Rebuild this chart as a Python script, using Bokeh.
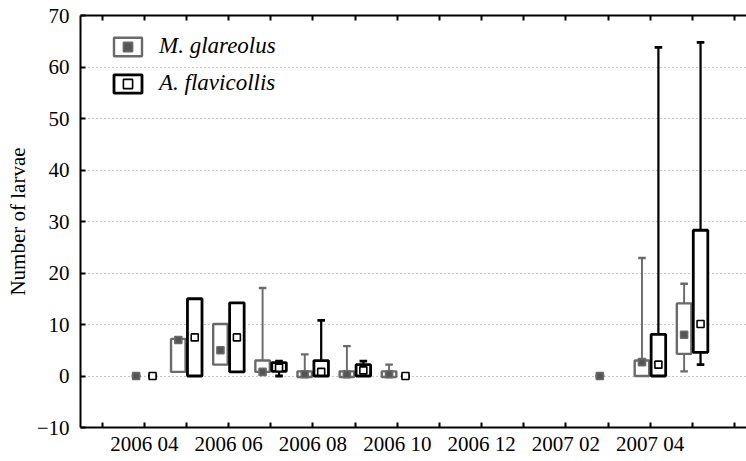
import numpy as np
from bokeh.plotting import figure
from bokeh.models import FixedTicker, LinearAxis, Range1d, Legend, LegendItem
from bokeh.embed import file_html
from bokeh.resources import INLINE

# ---------------- data ----------------
dates = ["2006-04", "2006-05", "2006-06", "2006-07", "2006-08",
         "2006-09", "2006-10", "2007-03", "2007-04", "2007-05"]

# M. glareolus
mg_mid    = [0.0, 7.0, 5.0, 0.8, 0.35, 0.35, 0.35, 0.0, 2.7, 8.0]
mg_box_lo = [0.0, 0.8, 2.2, 0.8, -0.2, -0.2, -0.2, 0.0, 0.0, 4.3]
mg_box_hi = [0.0, 7.2, 10.1, 3.0, 0.9, 0.9, 0.9, 0.0, 3.0, 14.1]
mg_wh_lo  = [0.0, 0.8, 2.2, 0.8, -0.2, -0.2, -0.2, 0.0, 0.0, 0.9]
mg_wh_hi  = [0.0, 7.2, 10.1, 17.1, 4.2, 5.8, 2.2, 0.0, 22.9, 17.9]

# A. flavicollis (no sample in 2007-03)
af_mid    = [0.0, 7.5, 7.5, 1.6, 0.8, 1.1, 0.0, None, 2.2, 10.1]
af_box_lo = [0.0, 0.0, 0.8, 0.9, 0.0, 0.0, 0.0, None, 0.0, 4.6]
af_box_hi = [0.0, 15.0, 14.2, 2.6, 3.0, 2.2, 0.0, None, 8.1, 28.3]
af_wh_lo  = [0.0, 0.0, 0.8, 0.0, 0.0, 0.0, 0.0, None, 0.0, 2.2]
af_wh_hi  = [0.0, 15.0, 14.2, 2.9, 10.8, 2.9, 0.0, None, 63.8, 64.8]

x_tick_labels = ["2006 04", "2006 06", "2006 08", "2006 10",
                 "2006 12", "2007 02", "2007 04"]
y_ticks = [-10, 0, 10, 20, 30, 40, 50, 60, 70]

# ---------------- helpers ----------------
def month_index(s):
    y, m = s.replace(" ", "-").split("-")
    return (int(y) - 2006) * 12 + (int(m) - 4)

xm = np.array([month_index(d) for d in dates], dtype=float)

FONT = "Liberation Serif"
OFFSET = 0.195
BOX_W = 0.345
CAP_W = 0.18

p = figure(width=746, height=461, output_backend="svg", toolbar_location=None,
           x_range=Range1d(-1.515, 14.285), y_range=Range1d(-10, 70),
           min_border_left=80, min_border_right=0, min_border_top=15,
           min_border_bottom=34)
p.outline_line_color = None
p.background_fill_color = "white"
p.xgrid.visible = False
p.ygrid.grid_line_color = "#8c8c8c"
p.ygrid.grid_line_dash = "1 3"
p.ygrid.grid_line_width = 1
p.ygrid.ticker = FixedTicker(ticks=y_ticks[1:-1])

month_ticks = list(range(-1, 15))
label_ticks = [month_index(t) for t in x_tick_labels]
other_ticks = [t for t in month_ticks if t not in label_ticks]

xa = p.xaxis[0]
xa.ticker = FixedTicker(ticks=label_ticks, minor_ticks=other_ticks)
xa.major_label_overrides = {month_index(t): t for t in x_tick_labels}
xa.axis_label = None
ya = p.yaxis[0]
ya.ticker = FixedTicker(ticks=y_ticks)
ya.major_label_overrides = {-10: "\u221210"}
ya.axis_label = "Number of larvae"

for ax in (xa, ya):
    ax.axis_line_color = "black"
    ax.axis_line_width = 2
    ax.major_tick_in = 5
    ax.major_tick_out = 0
    ax.major_tick_line_width = 2
    ax.major_tick_line_color = "black"
    ax.major_label_text_font = FONT
    ax.major_label_text_font_size = "21px"
    ax.major_label_text_color = "black"
xa.minor_tick_in = 5
xa.minor_tick_out = 0
xa.minor_tick_line_width = 2
xa.minor_tick_line_color = "black"
ya.minor_tick_line_color = None
xa.major_label_standoff = 4
ya.major_label_standoff = 11
ya.axis_label_text_font = FONT
ya.axis_label_text_font_size = "21px"
ya.axis_label_text_font_style = "normal"
ya.axis_label_text_color = "black"
ya.axis_label_standoff = 4

top = LinearAxis(ticker=FixedTicker(ticks=[], minor_ticks=month_ticks), axis_line_width=2,
                 axis_line_color="black", major_tick_in=0, major_tick_out=0,
                 minor_tick_in=5, minor_tick_out=0, minor_tick_line_width=2,
                 minor_tick_line_color="black", major_label_standoff=0, axis_label=None)
p.add_layout(top, "above")


def draw_series(mid, blo, bhi, wlo, whi, shift, color, lw, marker_fill):
    mid = np.array(mid, dtype=float)
    blo = np.array(blo, dtype=float)
    bhi = np.array(bhi, dtype=float)
    wlo = np.array(wlo, dtype=float)
    whi = np.array(whi, dtype=float)
    ok = ~np.isnan(mid)
    x = xm + shift

    up = ok & (whi > bhi)
    lo = ok & (wlo < blo)
    p.segment(x0=x[up], y0=bhi[up], x1=x[up], y1=whi[up], line_color=color, line_width=lw * 0.8)
    p.segment(x0=x[lo], y0=blo[lo], x1=x[lo], y1=wlo[lo], line_color=color, line_width=lw * 0.8)
    p.segment(x0=x[up] - CAP_W / 2, y0=whi[up], x1=x[up] + CAP_W / 2, y1=whi[up],
              line_color=color, line_width=lw)
    p.segment(x0=x[lo] - CAP_W / 2, y0=wlo[lo], x1=x[lo] + CAP_W / 2, y1=wlo[lo],
              line_color=color, line_width=lw)
    flat = ok & (bhi == blo)
    p.segment(x0=x[flat] - CAP_W * 0.6, y0=mid[flat], x1=x[flat] + CAP_W * 0.6, y1=mid[flat],
              line_color=color, line_width=lw)

    box = ok & (bhi > blo)
    q = p.quad(left=x[box] - BOX_W / 2, right=x[box] + BOX_W / 2, bottom=blo[box], top=bhi[box],
               fill_color="white", line_color=color, line_width=lw)
    s = p.scatter(x=x[ok], y=mid[ok], marker="square", size=7, fill_color=marker_fill,
                  line_color=color, line_width=1.6)
    return q, s


q1, s1 = draw_series(mg_mid, mg_box_lo, mg_box_hi, mg_wh_lo, mg_wh_hi, -OFFSET,
                     "#6a6a6a", 2.4, "#555555")
q2, s2 = draw_series(af_mid, af_box_lo, af_box_hi, af_wh_lo, af_wh_hi, OFFSET,
                     "black", 2.8, "white")

legend = Legend(items=[LegendItem(label="M. glareolus", renderers=[q1, s1]),
                       LegendItem(label="A. flavicollis", renderers=[q2, s2])],
                location=(30, 331), padding=0, margin=0, spacing=11,
                glyph_width=35, glyph_height=23, label_height=23, label_standoff=14,
                label_text_font=FONT, label_text_font_size="23px",
                label_text_font_style="italic", label_text_color="black",
                background_fill_alpha=0, border_line_alpha=0)
p.add_layout(legend, "center")

open("out.html", "w").write(file_html(p, INLINE))
